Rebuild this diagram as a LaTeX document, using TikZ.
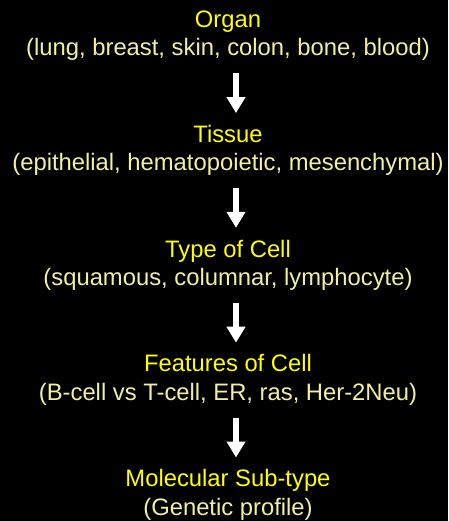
\documentclass[tikz,border=0pt]{standalone}
\usepackage{fontspec}
\setmainfont{Liberation Sans}
\usepackage{tikz}
\usetikzlibrary{arrows.meta,positioning}
\definecolor{ttlyellow}{RGB}{255,255,0}
\definecolor{subyellow}{RGB}{242,240,160}

\begin{document}
\begin{tikzpicture}[node distance=64pt, every node/.style={font=\fontsize{23.8}{29}\selectfont}, ttl/.style={text=ttlyellow, inner sep=0pt, text height=17pt, text depth=5pt}, sub/.style={text=subyellow, inner sep=0pt, text height=17pt, text depth=5pt}, arr/.style={-{Triangle[width=18pt,length=16pt]}, line width=5.5pt, white, shorten <=12pt, shorten >=12pt}]
\useasboundingbox[fill=black] (0,0) rectangle (448pt,-521pt);
\node[ttl,anchor=base] (organ) at (228pt,-27.5pt) {Organ};
\node[sub,below=6pt of organ] (organsub) {(lung, breast, skin, colon, bone, blood)};
\node[ttl,below=of organsub] (tissue) {Tissue};
\node[sub,below=6pt of tissue] (tissuesub) {(epithelial, hematopoietic, mesenchymal)};
\node[ttl,below=of tissuesub] (celltype) {Type of Cell};
\node[sub,below=6pt of celltype] (celltypesub) {(squamous, columnar, lymphocyte)};
\node[ttl,below=of celltypesub] (features) {Features of Cell};
\node[sub,below=6pt of features] (featuressub) {(B-cell vs T-cell, ER, ras, Her-2Neu)};
\node[ttl,below=of featuressub] (molecular) {Molecular Sub-type};
\node[sub,below=6pt of molecular] (molecularsub) {(Genetic profile)};
\draw[arr] ([xshift=8pt]organsub.south) -- ([xshift=8pt]tissue.north);
\draw[arr] ([xshift=8pt]tissuesub.south) -- ([xshift=8pt]celltype.north);
\draw[arr] ([xshift=8pt]celltypesub.south) -- ([xshift=8pt]features.north);
\draw[arr] ([xshift=8pt]featuressub.south) -- ([xshift=8pt]molecular.north);
\end{tikzpicture}
\end{document}
